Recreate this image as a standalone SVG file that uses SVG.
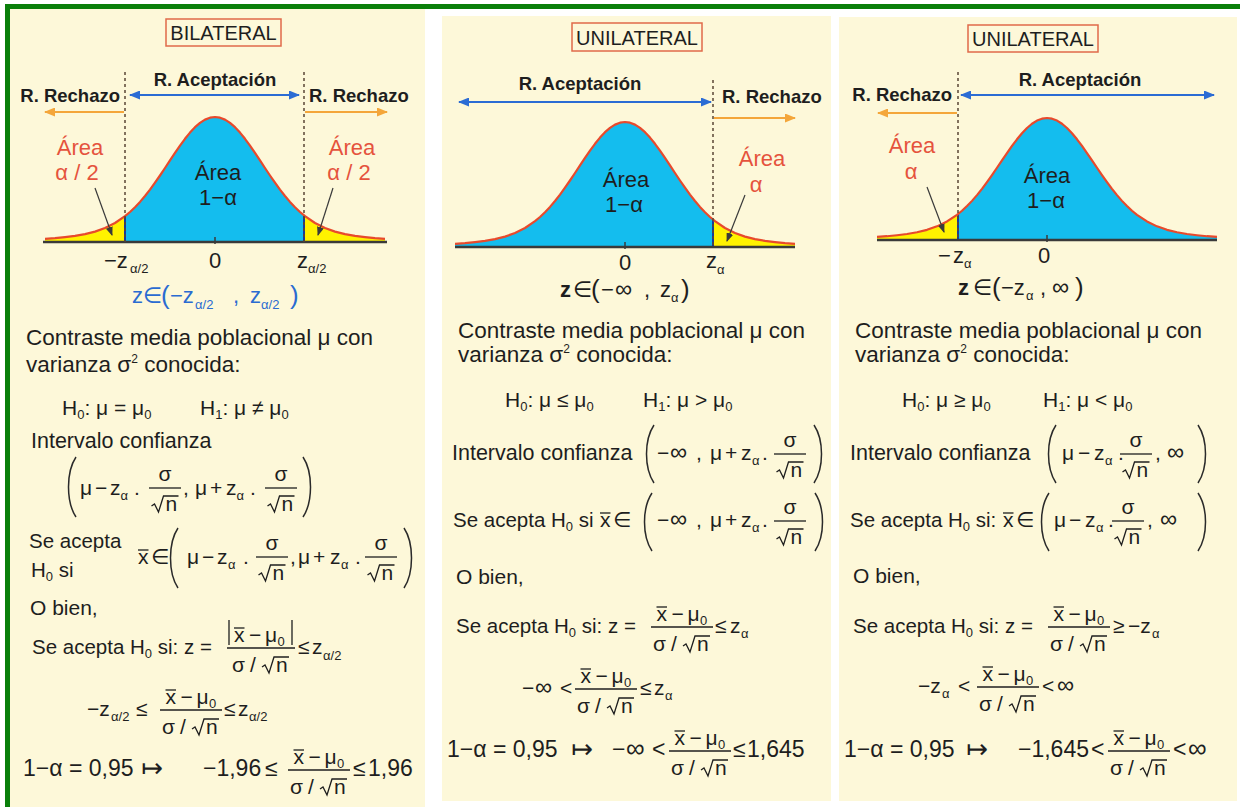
<svg xmlns="http://www.w3.org/2000/svg" xmlns:xlink="http://www.w3.org/1999/xlink" width="1240" height="807" viewBox="0 0 1240 807">
<style>
text{font-family:"Liberation Sans","DejaVu Sans",sans-serif;fill:#1e1e1e}
.m{font-size:21px}.t{font-size:22.5px}.iv{font-size:21.5px}.sa{font-size:20.5px}
.s{font-size:13px}.sup{font-size:12px}.L{font-size:23px}.inf{font-size:24px}.infL{font-size:26px}
.map{font-size:26px}
.hd{font-size:18.5px;font-weight:bold}.ttl{font-size:20px}.ax{font-size:22px}.pr{font-size:26px}
.bz{font-size:22px;font-weight:bold}
.red{fill:#e5533d}.blu{fill:#2a6bd1}.c{text-anchor:middle}.e{text-anchor:end}
.ln{stroke:#1e1e1e;stroke-width:1.3;fill:none}
.par{stroke:#2a2a2a;stroke-width:1.5;fill:none}
.dash{stroke:#5a4636;stroke-width:1.5;stroke-dasharray:3 3}
.bl{stroke:#2b6cd4;stroke-width:2}
.or{stroke:#f4a63a;stroke-width:2}
.pt{stroke:#3a3a3a;stroke-width:1.2}
.box{fill:none;stroke:#e06a4a;stroke-width:1.5}
.curve{fill:none;stroke:#e84a2c;stroke-width:2.2;stroke-linejoin:round}
.axis{stroke:#3a3a3a;stroke-width:2.5}
.tick{stroke:#3a3a3a;stroke-width:1.5}
.bd{stroke:#1a3a9a;stroke-width:2}
.cream{fill:#fdf8d9}
</style>
<defs>
<marker id="ab" viewBox="0 0 11 9" refX="10" refY="4.5" markerWidth="11" markerHeight="9" markerUnits="userSpaceOnUse" orient="auto-start-reverse"><path d="M0,0 L11,4.5 L0,9 Z" fill="#2b6cd4"/></marker>
<marker id="ao" viewBox="0 0 11 9" refX="10" refY="4.5" markerWidth="11" markerHeight="9" markerUnits="userSpaceOnUse" orient="auto"><path d="M0,0 L11,4.5 L0,9 Z" fill="#f4a63a"/></marker>
<marker id="ak" viewBox="0 0 9 7" refX="8" refY="3.5" markerWidth="9" markerHeight="7" markerUnits="userSpaceOnUse" orient="auto"><path d="M0,0 L9,3.5 L0,7 Z" fill="#3a3a3a"/></marker>
<path id="bellL" d="M-170,-3.2 L-160,-3.9 L-150,-4.9 L-140,-6.1 L-130,-7.9 L-120,-10.4 L-110,-14 L-100,-19 L-90,-25.8 L-85,-30 L-80,-34.8 L-75,-40.1 L-70,-46 L-65,-52.4 L-60,-59.3 L-55,-66.5 L-50,-74 L-45,-81.6 L-40,-89.1 L-35,-96.4 L-30,-103.2 L-25,-109.4 L-20,-114.8 L-15,-119.1 L-10,-122.4 L-5,-124.3 L0,-125 L5,-124.3 L10,-122.4 L15,-119.1 L20,-114.8 L25,-109.4 L30,-103.2 L35,-96.4 L40,-89.1 L45,-81.6 L50,-74 L55,-66.5 L60,-59.3 L65,-52.4 L70,-46 L75,-40.1 L80,-34.8 L85,-30 L90,-25.8 L100,-19 L110,-14 L120,-10.4 L130,-7.9 L140,-6.1 L150,-4.9 L160,-3.9 L170,-3.2"/>
<path id="bellA" d="M-170,-3.2 L-160,-3.9 L-150,-4.9 L-140,-6.1 L-130,-7.9 L-120,-10.4 L-110,-14 L-100,-19 L-90,-25.8 L-85,-30 L-80,-34.8 L-75,-40.1 L-70,-46 L-65,-52.4 L-60,-59.3 L-55,-66.5 L-50,-74 L-45,-81.6 L-40,-89.1 L-35,-96.4 L-30,-103.2 L-25,-109.4 L-20,-114.8 L-15,-119.1 L-10,-122.4 L-5,-124.3 L0,-125 L5,-124.3 L10,-122.4 L15,-119.1 L20,-114.8 L25,-109.4 L30,-103.2 L35,-96.4 L40,-89.1 L45,-81.6 L50,-74 L55,-66.5 L60,-59.3 L65,-52.4 L70,-46 L75,-40.1 L80,-34.8 L85,-30 L90,-25.8 L100,-19 L110,-14 L120,-10.4 L130,-7.9 L140,-6.1 L150,-4.9 L160,-3.9 L170,-3.2 L170,0 L-170,0 Z"/>
<clipPath id="clip1"><rect x="-90" y="-130" width="179" height="135"/></clipPath>
<clipPath id="clip2"><rect x="-180" y="-130" width="268" height="135"/></clipPath>
<clipPath id="clip3"><rect x="-89" y="-130" width="270" height="135"/></clipPath>
<g id="sq"><path class="ln" d="M0,-5 L3,-7 L7,1 L12,-15 L27,-15"/><text class="m" x="14" y="0">n</text></g>
<g id="fs"><text class="m c" x="0" y="-7">σ</text><line class="ln" x1="-16" y1="0" x2="16" y2="0"/><use href="#sq" x="-13.5" y="23"/></g>
<g id="den"><text class="m" x="-29" y="24">σ</text><text class="m" x="-11" y="24">/</text><use href="#sq" x="1" y="24"/></g>
<g id="fx"><text class="m" x="-25.5" y="-6">x</text><line class="ln" x1="-25.5" y1="-20" x2="-15" y2="-20"/><text class="m" x="-10.5" y="-6">−</text><text class="m" x="5.5" y="-6">μ</text><text class="s" x="18" y="-2">0</text><line class="ln" x1="-31" y1="0" x2="31" y2="0"/><use href="#den"/></g>
<g id="fxa"><line class="ln" x1="-32" y1="-28" x2="-32" y2="-3"/><text class="m" x="-27" y="-6">x</text><line class="ln" x1="-27" y1="-20" x2="-16.5" y2="-20"/><text class="m" x="-12" y="-6">−</text><text class="m" x="4" y="-6">μ</text><text class="s" x="16.5" y="-2">0</text><line class="ln" x1="31" y1="-28" x2="31" y2="-3"/><line class="ln" x1="-34" y1="0" x2="34" y2="0"/><use href="#den"/></g>
</defs>

<rect x="0" y="0" width="1240" height="807" fill="#ffffff"/>
<g id="frame">
<rect x="5" y="4" width="1235" height="5" fill="#0a7f0a"/>
<rect x="5" y="4" width="5" height="803" fill="#0a7f0a"/>
</g>

<g id="panel-bilateral">
<rect class="cream" x="10" y="9" width="415" height="798"/>
<rect class="box" x="166" y="19" width="115" height="27"/>
<text class="ttl c" x="223.5" y="40">BILATERAL</text>
<text class="hd c" x="215" y="86">R. Aceptación</text>
<text class="hd e" x="120" y="102">R. Rechazo</text>
<text class="hd" x="309" y="102">R. Rechazo</text>
<g transform="translate(215,242)">
<use href="#bellA" fill="#fff200"/>
<use href="#bellA" fill="#14bdee" clip-path="url(#clip1)"/>
<line class="bd" x1="-90" y1="0" x2="-90" y2="-25.8"/>
<line class="bd" x1="89" y1="0" x2="89" y2="-26.6"/>
<line class="axis" x1="-172" y1="0" x2="172" y2="0"/>
<line class="tick" x1="0" y1="-5" x2="0" y2="2"/>
<use href="#bellL" class="curve"/>
</g>
<line class="dash" x1="125" y1="72" x2="125" y2="242"/>
<line class="dash" x1="304" y1="72" x2="304" y2="242"/>
<text class="ax red c" x="80" y="155">Área</text>
<text class="ax red c" x="77" y="180">α / 2</text>
<text class="ax red c" x="352" y="155">Área</text>
<text class="ax red c" x="349" y="180">α / 2</text>
<text class="ax c" x="218" y="180">Área</text>
<text class="ax c" x="218" y="205">1−α</text>
<text class="ax" x="104" y="268">−z</text><text class="s" x="130" y="273">α/2</text>
<text class="ax c" x="215" y="268">0</text>
<text class="ax" x="297" y="268">z</text><text class="s" x="308" y="273">α/2</text>
<text class="ax blu" x="132" y="303">z</text><text class="ax blu" x="143" y="303">∈</text><text class="pr blu" x="161" y="304">(</text><text class="ax blu" x="170" y="303">−z</text><text class="s blu" x="195" y="309">α/2</text><text class="ax blu" x="233" y="303">,</text><text class="ax blu" x="250" y="303">z</text><text class="s blu" x="261" y="309">α/2</text><text class="pr blu" x="290" y="304">)</text>

<text class="t" x="26" y="345">Contraste media poblacional μ con</text>
<text class="t" x="26" y="372">varianza σ<tspan class="sup" dy="-9">2</tspan><tspan dy="9"> conocida:</tspan></text>
<text class="m" x="62" y="415">H<tspan class="s" dy="4">0</tspan><tspan dy="-4">: μ = μ</tspan><tspan class="s" dy="4">0</tspan></text>
<text class="m" x="200" y="415">H<tspan class="s" dy="4">1</tspan><tspan dy="-4">: μ ≠ μ</tspan><tspan class="s" dy="4">0</tspan></text>
<text class="iv" x="31" y="448">Intervalo confianza</text>
<path class="par" d="M76,457 C66,472 66,502 76,517"/>
<text class="m" x="80" y="495">μ</text><text class="m" x="95" y="495">−</text><text class="m" x="110" y="495">z</text><text class="s" x="120.5" y="500">α</text><text class="m" x="134" y="495">.</text>
<use href="#fs" x="165" y="488"/>
<text class="m" x="183" y="495">,</text><text class="m" x="195" y="495">μ</text><text class="m" x="210" y="495">+</text><text class="m" x="226" y="495">z</text><text class="s" x="236.5" y="500">α</text><text class="m" x="250" y="495">.</text>
<use href="#fs" x="281" y="488"/>
<path class="par" d="M303,457 C313,472 313,502 303,517"/>

<text class="sa" x="29" y="548">Se acepta</text>
<text class="sa" x="31" y="577">H<tspan class="s" dy="4">0</tspan><tspan dy="-4">  si</tspan></text>
<text class="m" x="138" y="564">x</text><line class="ln" x1="138" y1="550" x2="148.5" y2="550"/>
<text class="m" x="151" y="564">∈</text>
<path class="par" d="M178,528 C168,543 168,573 178,588"/>
<text class="m" x="187" y="564">μ</text><text class="m" x="202" y="564">−</text><text class="m" x="217" y="564">z</text><text class="s" x="228" y="569">α</text><text class="m" x="243" y="564">.</text>
<use href="#fs" x="272" y="557"/>
<text class="m" x="290" y="564">,</text><text class="m" x="298" y="564">μ</text><text class="m" x="313" y="564">+</text><text class="m" x="330" y="564">z</text><text class="s" x="341" y="569">α</text><text class="m" x="355" y="564">.</text>
<use href="#fs" x="381" y="557"/>
<path class="par" d="M404,528 C414,543 414,573 404,588"/>

<text class="m" x="30" y="615">O bien,</text>
<text class="sa" x="32" y="654">Se acepta H<tspan class="s" dy="4">0</tspan><tspan dy="-4"> si: z =</tspan></text>
<use href="#fxa" x="261" y="648"/>
<text class="m" x="298" y="654">≤</text><text class="m" x="312" y="654">z</text><text class="s" x="323" y="660">α/2</text>

<text class="m" x="87" y="716">−z</text><text class="s" x="111" y="721">α/2</text><text class="m" x="136" y="716">≤</text>
<use href="#fx" x="191" y="710"/>
<text class="m" x="224" y="716">≤</text><text class="m" x="238" y="716">z</text><text class="s" x="249" y="721">α/2</text>

<text class="L" x="23" y="776">1−α = 0,95</text>
<text class="map" x="141" y="777">↦</text>
<text class="L" x="203" y="776">−1,96</text>
<text class="L" x="265" y="776">≤</text>
<use href="#fx" x="319" y="770"/>
<text class="L" x="353" y="776">≤</text>
<text class="L" x="368" y="776">1,96</text>
</g>

<g id="panel-unilateral-right">
<rect class="cream" x="442" y="16" width="389" height="785"/>
<rect class="box" x="572" y="23" width="130" height="28"/>
<text class="ttl c" x="637" y="45">UNILATERAL</text>
<text class="hd c" x="580" y="90">R. Aceptación</text>
<text class="hd" x="722" y="103">R. Rechazo</text>
<g transform="translate(625,247)">
<use href="#bellA" fill="#fff200"/>
<use href="#bellA" fill="#14bdee" clip-path="url(#clip2)"/>
<line class="bd" x1="88" y1="0" x2="88" y2="-27.5"/>
<line class="axis" x1="-170" y1="0" x2="170" y2="0"/>
<line class="tick" x1="0" y1="-5" x2="0" y2="2"/>
<use href="#bellL" class="curve"/>
</g>
<line class="dash" x1="713" y1="80" x2="713" y2="247"/>
<text class="ax red c" x="762" y="166">Área</text>
<text class="ax red c" x="756" y="192">α</text>
<text class="ax c" x="626" y="187">Área</text>
<text class="ax c" x="624" y="212">1−α</text>
<text class="ax c" x="625" y="270">0</text>
<text class="ax" x="706" y="268">z</text><text class="s" x="717" y="274">α</text>
<text class="bz" x="560" y="297">z</text><text class="ax" x="573" y="297">∈</text><text class="pr" x="591" y="298">(</text><text class="ax" x="601" y="297">−</text><text class="inf" x="615" y="297">∞</text><text class="ax" x="644" y="297">,</text><text class="ax" x="660" y="297">z</text><text class="s" x="671" y="302">α</text><text class="pr" x="681" y="298">)</text>

<text class="t" x="458" y="338">Contraste media poblacional μ con</text>
<text class="t" x="458" y="362">varianza σ<tspan class="sup" dy="-9">2</tspan><tspan dy="9"> conocida:</tspan></text>
<text class="m" x="505" y="407">H<tspan class="s" dy="4">0</tspan><tspan dy="-4">: μ ≤ μ</tspan><tspan class="s" dy="4">0</tspan></text>
<text class="m" x="643" y="407">H<tspan class="s" dy="4">1</tspan><tspan dy="-4">: μ &gt; μ</tspan><tspan class="s" dy="4">0</tspan></text>
<text class="iv" x="452" y="460">Intervalo confianza</text>
<path class="par" d="M654,425 C644,440 644,468 654,483"/>
<text class="m" x="657" y="460">−</text><text class="inf" x="670" y="460">∞</text><text class="m" x="696" y="460">,</text><text class="m" x="710" y="460">μ</text><text class="m" x="725" y="460">+</text><text class="m" x="741" y="460">z</text><text class="s" x="752" y="465">α</text><text class="m" x="762" y="460">.</text>
<use href="#fs" x="790" y="454"/>
<path class="par" d="M814,425 C824,440 824,468 814,483"/>

<text class="sa" x="453" y="527">Se acepta H<tspan class="s" dy="4">0</tspan><tspan dy="-4"> si</tspan></text>
<text class="m" x="600" y="527">x</text><line class="ln" x1="600" y1="513" x2="610.5" y2="513"/>
<text class="m" x="613" y="527">∈</text>
<path class="par" d="M652,493 C642,508 642,536 652,551"/>
<text class="m" x="657" y="527">−</text><text class="inf" x="670" y="527">∞</text><text class="m" x="696" y="527">,</text><text class="m" x="710" y="527">μ</text><text class="m" x="725" y="527">+</text><text class="m" x="741" y="527">z</text><text class="s" x="752" y="532">α</text><text class="m" x="762" y="527">.</text>
<use href="#fs" x="790" y="521"/>
<path class="par" d="M815,493 C825,508 825,536 815,551"/>

<text class="m" x="456" y="584">O bien,</text>
<text class="sa" x="456" y="633">Se acepta H<tspan class="s" dy="4">0</tspan><tspan dy="-4"> si: z =</tspan></text>
<use href="#fx" x="682" y="627"/>
<text class="m" x="715" y="633">≤</text><text class="m" x="730" y="633">z</text><text class="s" x="741" y="638">α</text>

<text class="m" x="522" y="695">−</text><text class="inf" x="535" y="695">∞</text><text class="m" x="560" y="695">&lt;</text>
<use href="#fx" x="606" y="689"/>
<text class="m" x="640" y="695">≤</text><text class="m" x="654" y="695">z</text><text class="s" x="665" y="700">α</text>

<text class="L" x="447" y="757">1−α = 0,95</text>
<text class="map" x="571" y="758">↦</text>
<text class="L" x="612" y="757">−</text><text class="infL" x="626" y="757">∞</text>
<text class="L" x="652" y="757">&lt;</text>
<use href="#fx" x="700" y="751"/>
<text class="L" x="733" y="757">≤</text>
<text class="L" x="747" y="757">1,645</text>
</g>

<g id="panel-unilateral-left">
<rect class="cream" x="839" y="17" width="398" height="784"/>
<rect class="box" x="968" y="25" width="130" height="27"/>
<text class="ttl c" x="1033" y="46">UNILATERAL</text>
<text class="hd c" x="1080" y="86">R. Aceptación</text>
<text class="hd e" x="952" y="101">R. Rechazo</text>
<g transform="translate(1047,240) scale(1,0.976)">
<use href="#bellA" fill="#fff200"/>
<use href="#bellA" fill="#14bdee" clip-path="url(#clip3)"/>
<line class="bd" x1="-89" y1="0" x2="-89" y2="-26.6"/>
<line class="axis" x1="-170" y1="0" x2="170" y2="0"/>
<line class="tick" x1="0" y1="-5" x2="0" y2="2"/>
<use href="#bellL" class="curve"/>
</g>
<line class="dash" x1="958" y1="72" x2="958" y2="240"/>
<text class="ax red c" x="912" y="153">Área</text>
<text class="ax red c" x="911" y="179">α</text>
<text class="ax c" x="1047" y="183">Área</text>
<text class="ax c" x="1046" y="208">1−α</text>
<text class="ax" x="938" y="263">−</text><text class="ax" x="953" y="263">z</text><text class="s" x="964" y="268">α</text>
<text class="ax c" x="1044" y="263">0</text>
<text class="bz" x="958" y="295">z</text><text class="ax" x="973" y="295">∈</text><text class="pr" x="992" y="296">(</text><text class="ax" x="1001" y="295">−z</text><text class="s" x="1026" y="300">α</text><text class="ax" x="1040" y="295">,</text><text class="inf" x="1052" y="295">∞</text><text class="pr" x="1075" y="296">)</text>

<text class="t" x="855" y="338">Contraste media poblacional μ con</text>
<text class="t" x="855" y="362">varianza σ<tspan class="sup" dy="-9">2</tspan><tspan dy="9"> conocida:</tspan></text>
<text class="m" x="902" y="407">H<tspan class="s" dy="4">0</tspan><tspan dy="-4">: μ ≥ μ</tspan><tspan class="s" dy="4">0</tspan></text>
<text class="m" x="1043" y="407">H<tspan class="s" dy="4">1</tspan><tspan dy="-4">: μ &lt; μ</tspan><tspan class="s" dy="4">0</tspan></text>
<text class="iv" x="850" y="460">Intervalo confianza</text>
<path class="par" d="M1056,425 C1046,440 1046,468 1056,483"/>
<text class="m" x="1062" y="460">μ</text><text class="m" x="1078" y="460">−</text><text class="m" x="1094" y="460">z</text><text class="s" x="1105" y="465">α</text><text class="m" x="1118" y="460">.</text>
<use href="#fs" x="1136" y="454"/>
<text class="m" x="1155" y="460">,</text><text class="inf" x="1167" y="460">∞</text>
<path class="par" d="M1198,425 C1208,440 1208,468 1198,483"/>

<text class="sa" x="850" y="527">Se acepta H<tspan class="s" dy="4">0</tspan><tspan dy="-4"> si:</tspan></text>
<text class="m" x="1003" y="527">x</text><line class="ln" x1="1003" y1="513" x2="1013.5" y2="513"/>
<text class="m" x="1016" y="527">∈</text>
<path class="par" d="M1049,493 C1039,508 1039,536 1049,551"/>
<text class="m" x="1054" y="527">μ</text><text class="m" x="1069" y="527">−</text><text class="m" x="1085" y="527">z</text><text class="s" x="1096" y="532">α</text><text class="m" x="1108" y="527">.</text>
<use href="#fs" x="1128" y="521"/>
<text class="m" x="1147" y="527">,</text><text class="inf" x="1160" y="527">∞</text>
<path class="par" d="M1198,493 C1208,508 1208,536 1198,551"/>

<text class="m" x="853" y="583">O bien,</text>
<text class="sa" x="853" y="633">Se acepta H<tspan class="s" dy="4">0</tspan><tspan dy="-4"> si: z =</tspan></text>
<use href="#fx" x="1079" y="627"/>
<text class="m" x="1113" y="633">≥</text><text class="m" x="1128" y="633">−z</text><text class="s" x="1152" y="638">α</text>

<text class="m" x="918" y="693">−z</text><text class="s" x="942" y="698">α</text><text class="m" x="958" y="693">&lt;</text>
<use href="#fx" x="1008" y="687"/>
<text class="m" x="1042" y="693">&lt;</text><text class="inf" x="1057" y="693">∞</text>

<text class="L" x="844" y="757">1−α = 0,95</text>
<text class="map" x="966" y="758">↦</text>
<text class="L" x="1018" y="757">−1,645</text>
<text class="L" x="1091" y="757">&lt;</text>
<use href="#fx" x="1139" y="751"/>
<text class="L" x="1173" y="757">&lt;</text>
<text class="infL" x="1188" y="757">∞</text>
</g>

<g id="connectors">
<line class="bl" x1="130" y1="95" x2="299" y2="95" marker-start="url(#ab)" marker-end="url(#ab)"/>
<line class="or" x1="124" y1="112" x2="45" y2="112" marker-end="url(#ao)"/>
<line class="or" x1="305" y1="112" x2="387" y2="112" marker-end="url(#ao)"/>
<line class="pt" x1="95" y1="188" x2="112" y2="235" marker-end="url(#ak)"/>
<line class="pt" x1="333" y1="188" x2="318" y2="235" marker-end="url(#ak)"/>
<line class="bl" x1="459" y1="102" x2="711" y2="102" marker-start="url(#ab)" marker-end="url(#ab)"/>
<line class="or" x1="714" y1="118" x2="795" y2="118" marker-end="url(#ao)"/>
<line class="pt" x1="745" y1="195" x2="727" y2="241" marker-end="url(#ak)"/>
<line class="bl" x1="961" y1="95" x2="1214" y2="95" marker-start="url(#ab)" marker-end="url(#ab)"/>
<line class="or" x1="957" y1="113" x2="878" y2="113" marker-end="url(#ao)"/>
<line class="pt" x1="927" y1="187" x2="944" y2="232" marker-end="url(#ak)"/>
</g>
</svg>
